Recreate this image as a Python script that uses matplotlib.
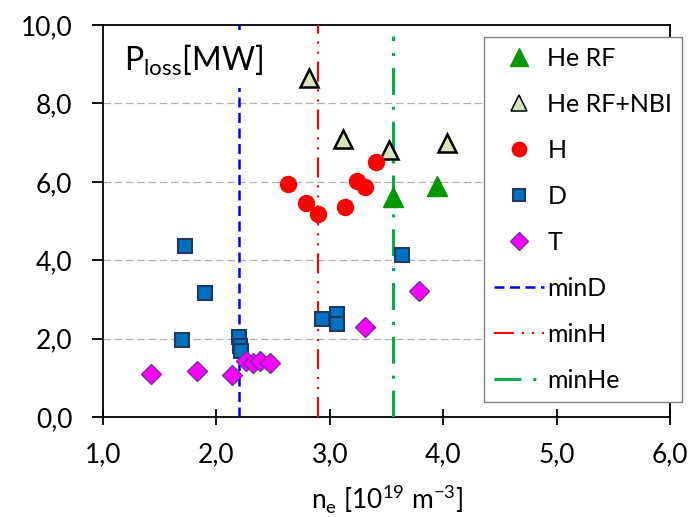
import matplotlib
matplotlib.use("Agg")
import matplotlib.pyplot as plt

plt.rcParams['font.family'] = ['Lato', 'DejaVu Sans']
plt.rcParams['mathtext.fontset'] = 'custom'
plt.rcParams['mathtext.rm'] = 'Lato'

# data (ne in 1e19 m^-3, Ploss in MW)
he_rf_x = [3.56, 3.95]
he_rf_y = [5.62, 5.90]

he_nbi_x = [2.82, 3.12, 3.52, 4.03]
he_nbi_y = [8.64, 7.10, 6.80, 7.00]

h_x = [2.63, 2.79, 2.90, 3.13, 3.24, 3.31, 3.41]
h_y = [5.95, 5.46, 5.18, 5.35, 6.01, 5.88, 6.50]

d_x = [1.72, 1.90, 1.70, 2.20, 2.21, 2.22, 2.93, 3.06, 3.06, 3.64]
d_y = [4.37, 3.17, 1.97, 2.04, 1.80, 1.68, 2.50, 2.62, 2.38, 4.13]

t_x = [1.42, 1.83, 2.14, 2.26, 2.32, 2.38, 2.47, 3.31, 3.79]
t_y = [1.09, 1.18, 1.08, 1.44, 1.38, 1.42, 1.38, 2.30, 3.21]

min_d = 2.20
min_h = 2.90
min_he = 3.557
min_he_top = 9.72

xticks = [1, 2, 3, 4, 5, 6]
xtick_labels = ['1,0', '2,0', '3,0', '4,0', '5,0', '6,0']
yticks = [0, 2, 4, 6, 8, 10]
ytick_labels = ['0,0', '2,0', '4,0', '6,0', '8,0', '10,0']

fig = plt.figure(figsize=(6.92, 5.17), dpi=100)
ax = fig.add_axes([0.149, 0.1934, 0.819, 0.7582])

for yy in yticks[1:-1]:
    ax.axhline(yy, color='#b0b0b0', lw=0.9, ls=(0, (6, 3)), zorder=0)

ax.plot(he_rf_x, he_rf_y, ls='none', marker='^', ms=14, color='#009900',
        mec='#009900', label='He RF', zorder=4)
ax.plot(he_nbi_x, he_nbi_y, ls='none', marker='^', ms=13, mfc='#d8e4bc',
        mec='black', mew=1.8, label='He RF+NBI', zorder=4)
ax.plot(h_x, h_y, ls='none', marker='o', ms=11.5, color='#ff0000',
        label='H', zorder=4)
ax.plot(d_x, d_y, ls='none', marker='s', ms=9.5, mfc='#0070c0',
        mec='#1f3864', mew=1.5, label='D', zorder=4)
ax.plot(t_x, t_y, ls='none', marker='D', ms=10, mfc='#ff00ff',
        mec='#7030a0', mew=1, label='T', zorder=4)

ax.plot([min_d, min_d], [0, 10], color='#0000ff', lw=1.8,
        ls=(0, (4, 2.2)), label='minD', zorder=3)
ax.plot([min_h, min_h], [0, 10], color='#ff0000', lw=1.5,
        ls=(0, (9.6, 3.8, 1, 3.8, 1, 3.8)), label='minH', zorder=3)
ax.plot([min_he, min_he], [0, min_he_top], color='#00b050', lw=2.2,
        ls=(0, (8.8, 3.9, 1, 3.9)), label='minHe', zorder=3)

ax.set_xlim(1, 6)
ax.set_ylim(0, 10)
ax.set_xticks(xticks)
ax.set_yticks(yticks)
ax.set_xticklabels(xtick_labels)
ax.set_yticklabels(ytick_labels)
ax.tick_params(axis='x', direction='inout', length=12, width=1.3, labelsize=19, pad=12)
ax.tick_params(axis='y', direction='out', length=8, width=1.3, labelsize=19, pad=14)
for sp in ax.spines.values():
    sp.set_linewidth(1.3)

ax.set_xlabel(r'n$_\mathregular{e}$ [10$^\mathregular{19}$ m$^\mathregular{-3}$]',
              fontsize=19)
ax.xaxis.set_label_coords(0.5, -0.165)

ax.text(0.036, 0.955, r'P$_\mathregular{loss}$[MW]', transform=ax.transAxes,
        fontsize=23, va='top', ha='left', zorder=5,
        bbox=dict(facecolor='white', edgecolor='none', pad=7))

leg = ax.legend(loc='upper left', bbox_to_anchor=(0.699, 0.928),
                bbox_transform=fig.transFigure, borderaxespad=0,
                fontsize=18, frameon=True, fancybox=False,
                edgecolor='#808080', framealpha=1,
                labelspacing=0.92, handlelength=2.0, borderpad=0.4,
                handletextpad=0.15, markerscale=0.9)
leg.get_frame().set_linewidth(1)
leg.legend_handles[1].set_markeredgewidth(1.1)
leg.set_zorder(6)

fig.savefig('out.png', dpi=100)
